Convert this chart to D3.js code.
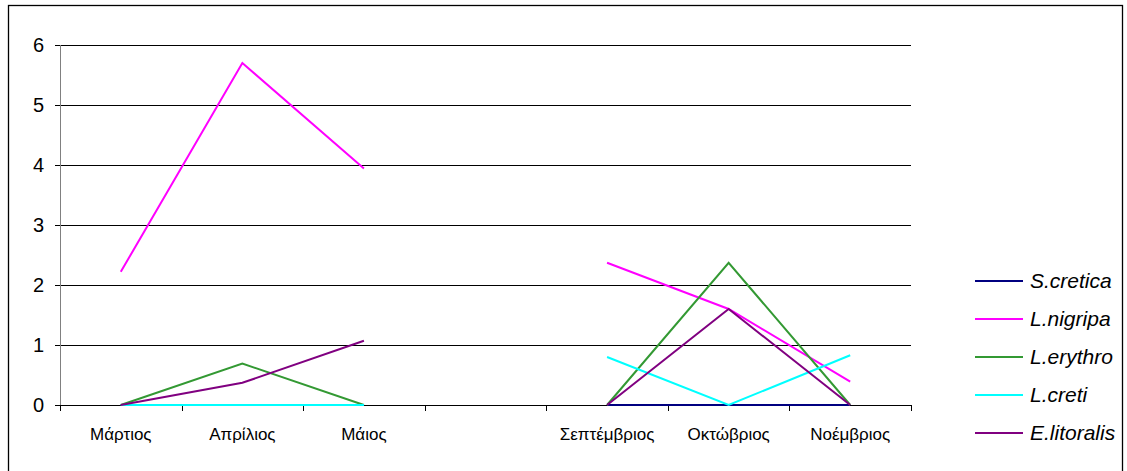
<!DOCTYPE html>
<html><head><meta charset="utf-8">
<script src="https://cdn.jsdelivr.net/npm/d3@7"></script>
<style>body{margin:0;background:#fff}svg{display:block}</style>
</head><body>
<svg id="c" width="1127" height="471"></svg>
<script>
const categories = ["Μάρτιος","Απρίλιος","Μάιος","","Σεπτέμβριος","Οκτώβριος","Νοέμβριος"];
const seriesNames = ["S.cretica","L.nigripa","L.erythro","L.creti","E.litoralis"];
const seriesColors = ["#000080","#ff00ff","#339933","#00ffff","#800080"];
const sCretica   = [0, 0, 0, null, 0, 0, 0];
const lNigripa   = [2.22, 5.7, 3.94, null, 2.37, 1.6, 0.39];
const lErythro   = [0, 0.69, 0, null, 0, 2.37, 0];
const lCreti     = [0, 0, 0, null, 0.8, 0, 0.83];
const eLitoralis = [0, 0.37, 1.07, null, 0, 1.6, 0];
const yTicks = [0,1,2,3,4,5,6];
const seriesValues = [sCretica, lNigripa, lErythro, lCreti, eLitoralis];

const svg = d3.select("#c");
svg.append("rect").attr("x",8.5).attr("y",5.5).attr("width",1114).attr("height",500)
  .attr("fill","none").attr("stroke","#000").attr("stroke-width",1.3);

const x = d3.scaleBand().domain(d3.range(categories.length)).range([60,911]);
const y = d3.scaleLinear().domain([0,6]).range([405,45]);

const g = svg.append("g");
g.selectAll("line.grid").data(yTicks).join("line")
  .attr("x1",55).attr("x2",911).attr("y1",d=>Math.round(y(d))+0.5).attr("y2",d=>Math.round(y(d))+0.5)
  .attr("stroke","#000").attr("stroke-width",1);
g.append("line").attr("x1",60.5).attr("x2",60.5).attr("y1",45).attr("y2",405).attr("stroke","#808080").attr("stroke-width",1);
g.selectAll("text.yl").data(yTicks).join("text")
  .attr("x",44).attr("y",d=>y(d)+7).attr("text-anchor","end")
  .attr("font-family","Liberation Sans, Arial, sans-serif").attr("font-size",20).text(d=>d);
const xt = d3.range(categories.length+1).map(i=> i<categories.length ? x(i) : 911);
g.selectAll("line.xt").data(xt).join("line")
  .attr("x1",d=>Math.round(d)+0.5).attr("x2",d=>Math.round(d)+0.5).attr("y1",405).attr("y2",411)
  .attr("stroke","#000").attr("stroke-width",1);
g.selectAll("text.xl").data(categories).join("text")
  .attr("x",(d,i)=>x(i)+x.bandwidth()/2).attr("y",440).attr("text-anchor","middle")
  .attr("font-family","Liberation Sans, Arial, sans-serif").attr("font-size",17).text(d=>d);

const line = d3.line().defined(d=>d!=null).x((d,i)=>x(i)+x.bandwidth()/2).y(d=>y(d));
seriesValues.forEach((vals,k)=>{
  svg.append("path").attr("d",line(vals)).attr("fill","none")
    .attr("stroke",seriesColors[k]).attr("stroke-width",2);
});

const leg = svg.append("g");
seriesNames.forEach((n,k)=>{
  const yy = 281 + k*38;
  leg.append("line").attr("x1",975).attr("x2",1023).attr("y1",yy).attr("y2",yy)
    .attr("stroke",seriesColors[k]).attr("stroke-width",2);
  leg.append("text").attr("x",1030).attr("y",yy+7).attr("font-family","Liberation Sans, Arial, sans-serif")
    .attr("font-style","italic").attr("font-size",21).text(n);
});
</script>
</body></html>
